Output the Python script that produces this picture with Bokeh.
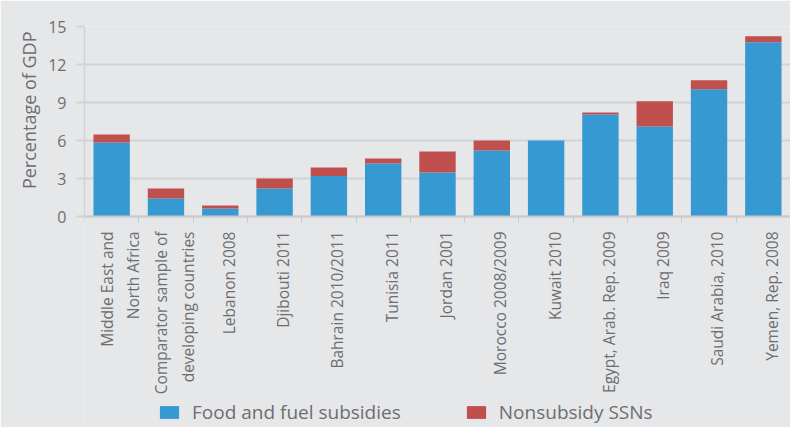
from bokeh.plotting import figure
from bokeh.models import FixedTicker, Range1d, Legend, LegendItem, ColumnDataSource, Title
from bokeh.embed import file_html
from bokeh.resources import INLINE
from math import pi

categories = [
    "Middle East and\nNorth Africa",
    "Comparator sample of\ndeveloping countries",
    "Lebanon 2008",
    "Djibouti 2011",
    "Bahrain 2010/2011",
    "Tunisia 2011",
    "Jordan 2001",
    "Morocco 2008/2009",
    "Kuwait 2010",
    "Egypt, Arab. Rep. 2009",
    "Iraq 2009",
    "Saudi Arabia, 2010",
    "Yemen, Rep. 2008",
]
food_fuel = [5.85, 1.42, 0.63, 2.21, 3.19, 4.18, 3.48, 5.22, 6.00, 8.06, 7.11, 10.04, 13.75]
nonsubsidy = [0.63, 0.79, 0.24, 0.79, 0.68, 0.40, 1.66, 0.78, 0.00, 0.16, 1.98, 0.71, 0.48]
y_ticks = [0, 3, 6, 9, 12, 15]
y_title = "Percentage of GDP"

BLUE = "#3799d2"
RED = "#c0504d"
BG = "#e6e7e9"
GRID = "#d2d3d5"
TEXT = "#6d6e71"
FONT = "Open Sans"

# layout (pixels)
W, H = 790, 427
LEFT, TOP = 84, 26
PLOT_H = 190                      # height of the 0..15 value band
y_max = y_ticks[-1]
y_min = -y_max * (H - TOP - PLOT_H) / PLOT_H   # room below zero for labels + legend

n = len(categories)
centers = [i + 0.5 for i in range(n)]
label_pos = [i + 0.655 for i in range(n)]
bounds = list(range(n + 1))

src = ColumnDataSource(dict(x=centers, food=food_fuel, nonsub=nonsubsidy))

p = figure(
    frame_width=W - LEFT, frame_height=H - TOP,
    x_range=Range1d(0, n), y_range=Range1d(y_min, y_max),
    output_backend="svg", toolbar_location=None,
    min_border_left=LEFT, min_border_top=TOP, min_border_right=0, min_border_bottom=0,
    background_fill_color=BG, border_fill_color=BG,
)
p.outline_line_color = None

rs = p.vbar_stack(["food", "nonsub"], x="x", width=0.67, color=[BLUE, RED],
                  line_color=None, source=src)

# x axis, pinned at y = 0
xa = p.xaxis[0]
xa.fixed_location = 0
xa.ticker = FixedTicker(ticks=label_pos, minor_ticks=bounds)
xa.major_label_overrides = {pos: lab for pos, lab in zip(label_pos, categories)}
xa.major_label_orientation = pi / 2
xa.major_tick_line_color = None
xa.major_tick_out = 0
xa.major_tick_in = 0
xa.minor_tick_out = 6
xa.minor_tick_in = 0
xa.minor_tick_line_color = "#c9cacc"
xa.axis_line_color = "#c9cacc"
xa.axis_line_width = 2
xa.major_label_text_font = FONT
xa.major_label_text_font_size = "15.5px"
xa.major_label_text_color = TEXT
xa.major_label_standoff = 9

# y axis
ya = p.yaxis[0]
ya.bounds = (0, y_max)
ya.ticker = FixedTicker(ticks=y_ticks)
ya.major_tick_out = 8
ya.major_tick_in = 0
ya.major_tick_line_color = GRID
ya.major_tick_line_width = 2
ya.minor_tick_line_color = None
ya.axis_line_color = GRID
ya.axis_line_width = 1.5
ya.major_label_text_font = FONT
ya.major_label_text_font_size = "16px"
ya.major_label_text_color = TEXT
ya.major_label_standoff = 10

# y-axis title, placed at the top of the 0..15 band
p.add_layout(Title(text=y_title, align="right", offset=5,
                   text_font=FONT, text_font_size="18px", text_font_style="normal",
                   text_color=TEXT, standoff=10), "left")

p.xgrid.grid_line_color = None
p.ygrid.ticker = FixedTicker(ticks=y_ticks)
p.ygrid.grid_line_color = GRID
p.ygrid.grid_line_width = 2

legend = Legend(
    items=[LegendItem(label="Food and fuel subsidies", renderers=[rs[0]]),
           LegendItem(label="Nonsubsidy SSNs", renderers=[rs[1]])],
    orientation="horizontal", location=(73, 2),
    background_fill_alpha=0, border_line_color=None,
    glyph_width=24, glyph_height=16, label_standoff=11, spacing=63,
    padding=0, margin=0, label_height=18,
    label_text_font=FONT, label_text_font_size="19px", label_text_color=TEXT,
)
p.add_layout(legend, "center")

open("out.html", "w").write(file_html(p, INLINE))
